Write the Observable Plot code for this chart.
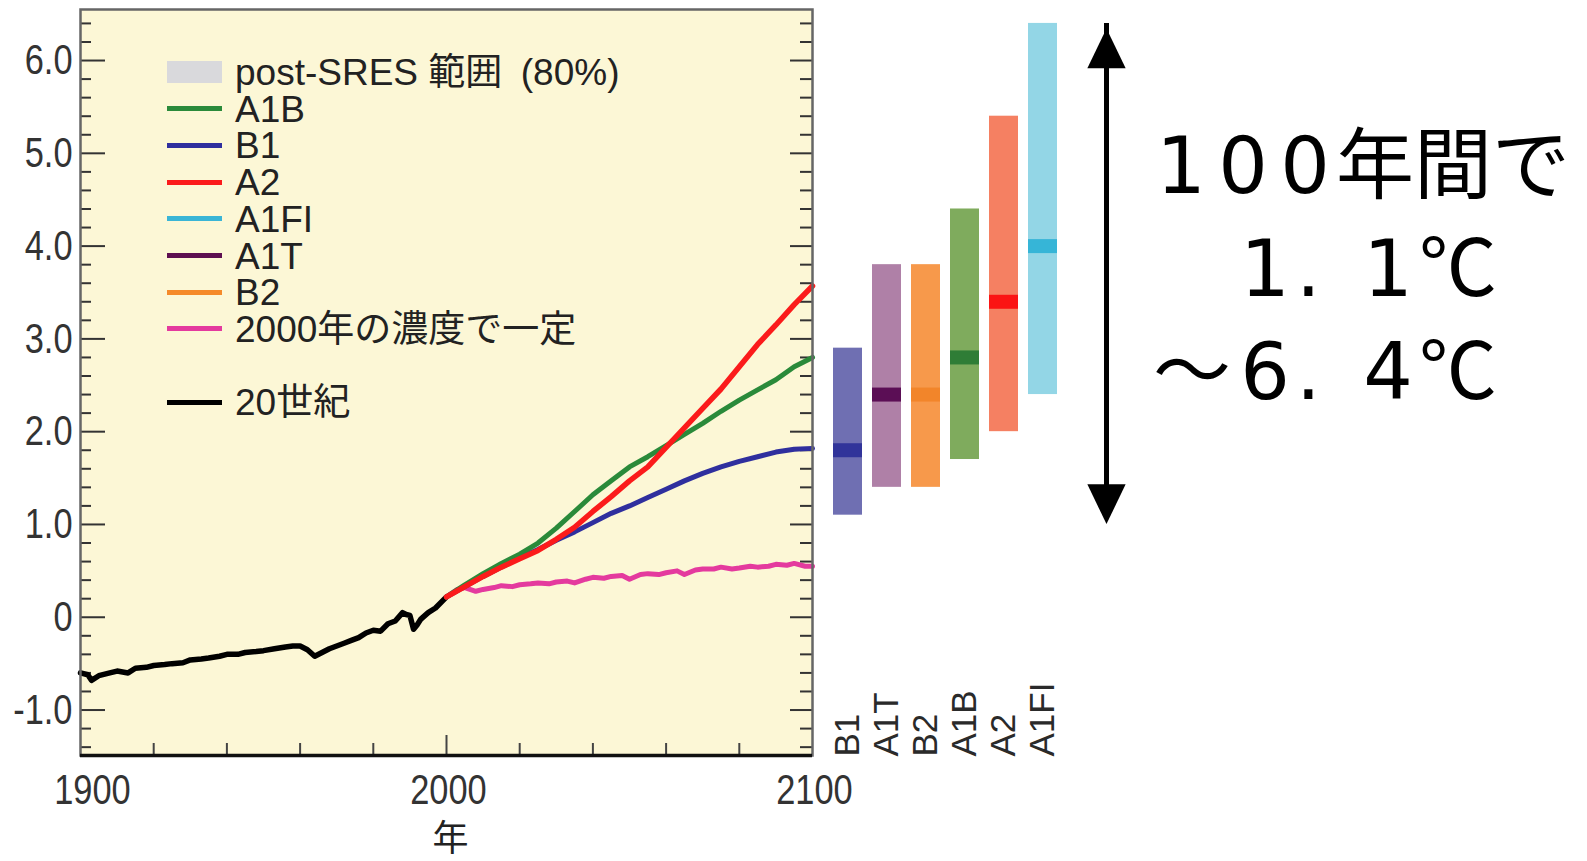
<!DOCTYPE html>
<html><head><meta charset="utf-8">
<script src="https://cdn.jsdelivr.net/npm/d3@7"></script>
<script src="https://cdn.jsdelivr.net/npm/@observablehq/plot@0.6"></script>
<style>
body{margin:0;background:#fff;}
#wrap{position:relative;width:1587px;height:861px;overflow:hidden;background:#fff;}
#wrap svg{position:absolute;left:0;top:0;}
.legend{position:absolute;left:167px;top:0;font-family:'Liberation Sans','Noto Sans CJK JP',sans-serif;font-size:37px;color:#222;}
.legend .row{position:absolute;left:0;height:37px;display:flex;align-items:center;white-space:nowrap;}
.legend .sw{width:55px;height:5px;margin-right:13px;flex:none;}
.legend .txt{display:inline-block;position:relative;top:1px;line-height:30px;height:30px;}
.note{position:absolute;left:1150px;top:108px;font-family:'Noto Sans CJK JP',sans-serif;font-size:78px;color:#000;white-space:nowrap;}
.note .ln{height:103px;line-height:103px;}
.note .c{display:inline-block;text-align:center;}
.note .dg{font-family:'DejaVu Sans',sans-serif;width:62px;}
.note .pt{font-family:'DejaVu Sans',sans-serif;width:61px;text-align:left;}
.note .cj{width:78px;}
.note .wd{width:84px;}
</style>
</head><body>
<div id="wrap"></div>
<script>
// ---------- data ----------
const histYears = [1900,1902,1903,1905,1908,1910,1913,1915,1918,1920,1923,1925,1928,1930,1933,1935,1938,1940,1943,1945,1948,1950,1953,1956,1958,1960,1962,1964,1966,1968,1970,1972,1974,1976,1978,1980,1982,1984,1986,1988,1989,1990,1991,1992,1993,1995,1997,2000];
const histTemp  = [-0.60,-0.62,-0.68,-0.63,-0.60,-0.58,-0.60,-0.55,-0.54,-0.52,-0.51,-0.50,-0.49,-0.46,-0.45,-0.44,-0.42,-0.40,-0.40,-0.38,-0.37,-0.36,-0.34,-0.32,-0.31,-0.31,-0.35,-0.42,-0.38,-0.34,-0.31,-0.28,-0.25,-0.22,-0.17,-0.14,-0.15,-0.07,-0.04,0.05,0.03,0.02,-0.13,-0.08,-0.02,0.05,0.10,0.22];

const scenYears = [2000,2005,2010,2015,2020,2025,2030,2035,2040,2045,2050,2055,2060,2065,2070,2075,2080,2085,2090,2095,2100];
const a2  = [0.22,0.33,0.44,0.54,0.63,0.72,0.84,0.97,1.14,1.30,1.47,1.62,1.83,2.04,2.25,2.46,2.70,2.94,3.15,3.37,3.57];
const a1b = [0.22,0.35,0.47,0.58,0.68,0.80,0.96,1.14,1.32,1.47,1.62,1.73,1.85,1.97,2.09,2.22,2.34,2.45,2.56,2.70,2.80];
const b1  = [0.22,0.33,0.44,0.54,0.64,0.73,0.83,0.92,1.02,1.12,1.20,1.29,1.38,1.47,1.55,1.62,1.68,1.73,1.78,1.81,1.82];

const commitYears = [2000,2003,2005,2008,2010,2013,2015,2018,2020,2023,2025,2028,2030,2033,2035,2038,2040,2043,2045,2048,2050,2053,2055,2058,2060,2063,2065,2068,2070,2073,2075,2078,2080,2083,2085,2088,2090,2093,2095,2098,2100];
const commit      = [0.22,0.30,0.32,0.28,0.30,0.32,0.34,0.33,0.35,0.36,0.37,0.36,0.38,0.39,0.37,0.41,0.43,0.42,0.44,0.45,0.41,0.46,0.47,0.46,0.48,0.50,0.46,0.51,0.52,0.52,0.54,0.52,0.53,0.55,0.54,0.55,0.57,0.56,0.58,0.55,0.55];

const scenarios = ["B1","A1T","B2","A1B","A2","A1FI"];
const rangeLow  = [1.1,1.4,1.4,1.7,2.0,2.4];
const rangeHigh = [2.9,3.8,3.8,4.4,5.4,6.4];
const bestEst   = [1.8,2.4,2.4,2.8,3.4,4.0];
const barFill    = ["#6f6fb2","#af80a7","#f7994b","#7fab5d","#f58062","#93d6e6"];
const medianFill = ["#31349a","#5b0e55","#f2852a","#2f7d36","#fb1414","#36b5d7"];

const arrowSpan = [{lo: 1.1, hi: 6.4}];

const yMajor = [-1,0,1,2,3,4,5,6];
const yMinor = d3.range(-1.4, 6.41, 0.2).map(v => Math.round(v*10)/10).filter(v => !Number.isInteger(v));
const xMinorTicks = [1920,1940,1960,1980,2020,2040,2060,2080];
const xMajorTicks = [2000];
const xLabels = [1900,2000,2100];

const legendLabels = ["post-SRES 範囲\u2002(80%)","A1B","B1","A2","A1FI","A1T","B2","2000年の濃度で一定","20世紀"];
const legendColors = ["#d9d9dc","#2a8a3a","#2f2f9e","#fb1b1b","#3ab5d6","#5d0f51","#f58a2a","#e43a9e","#000000"];
const legendRows   = [0,1,2,3,4,5,6,7,9];

const noteLines = ["100年間で","　1．1℃","～6．4℃"];

// ---------- layout ----------
const W = 1587, H = 861;
const mL = 80, mR = W - 812, mT = 9, mB = H - 755;
const frameW = W - mL - mR, frameH = H - mT - mB;
const yDomain = [-1.49, 6.55];
const sans = "'Liberation Sans','Noto Sans CJK JP',sans-serif";
const bg = "#fcf7d6";

const tbl = (xs, ys) => xs.map((x, i) => ({year: x, v: ys[i]}));

const main = Plot.plot({
  width: W, height: H,
  marginLeft: mL, marginRight: mR, marginTop: mT, marginBottom: mB,
  x: {domain: [1900, 2100], axis: null},
  y: {domain: yDomain, axis: null},
  style: {background: "transparent", fontFamily: sans, color: "#333"},
  marks: [
    Plot.frame({fill: bg, stroke: null}),
    Plot.tickY(yMinor, {y: d => d, insetRight: frameW - 11, stroke: "#333", strokeWidth: 2}),
    Plot.tickY(yMajor, {y: d => d, insetRight: frameW - 25, stroke: "#333", strokeWidth: 2}),
    Plot.tickY(yMinor, {y: d => d, insetLeft: frameW - 12, stroke: "#333", strokeWidth: 2}),
    Plot.tickY(yMajor, {y: d => d, insetLeft: frameW - 22, stroke: "#333", strokeWidth: 2}),
    Plot.tickX(xMinorTicks, {x: d => d, insetTop: frameH - 12, stroke: "#444", strokeWidth: 2}),
    Plot.tickX(xMajorTicks, {x: d => d, insetTop: frameH - 20, stroke: "#444", strokeWidth: 2}),
    Plot.line(tbl(histYears, histTemp), {x: "year", y: "v", stroke: "#000", strokeWidth: 5.5}),
    Plot.line(tbl(commitYears, commit), {x: "year", y: "v", stroke: "#e43a9e", strokeWidth: 5}),
    Plot.line(tbl(scenYears, b1), {x: "year", y: "v", stroke: "#2f2f9e", strokeWidth: 5}),
    Plot.line(tbl(scenYears, a1b), {x: "year", y: "v", stroke: "#2a8a3a", strokeWidth: 5}),
    Plot.line(tbl(scenYears, a2), {x: "year", y: "v", stroke: "#fb1b1b", strokeWidth: 5.5}),
    Plot.frame({stroke: "#666", strokeWidth: 2.5}),
    Plot.ruleY([yDomain[0]], {stroke: "#111", strokeWidth: 3.5}),
    Plot.axisY(yMajor, {anchor: "left", tickSize: 0, tickPadding: 8, fontSize: 43, fontFamily: sans, fill: "#333",
      tickFormat: d => d === 0 ? "0" : d.toFixed(1), label: null}),
    Plot.text(xLabels.slice(0, 1), {x: d => d, text: d => String(d), frameAnchor: "bottom", lineAnchor: "middle", dy: 35, dx: 12, fontSize: 43, fontFamily: sans, fill: "#333"}),
    Plot.text(xLabels.slice(1), {x: d => d, text: d => String(d), frameAnchor: "bottom", lineAnchor: "middle", dy: 35, dx: 2, fontSize: 43, fontFamily: sans, fill: "#333"}),
    Plot.text(["年"], {frameAnchor: "bottom", lineAnchor: "middle", dy: 84, dx: 4, fontSize: 36, fontFamily: "'Noto Sans CJK JP',sans-serif", fill: "#222"})
  ]
});

const idx = d3.range(scenarios.length);
const bars = Plot.plot({
  width: W, height: H,
  marginLeft: 0, marginRight: 0, marginTop: mT, marginBottom: mB,
  x: {domain: scenarios, range: [825.8, 1065], paddingInner: 0.26, paddingOuter: 0.13, axis: null},
  y: {domain: yDomain, axis: null},
  color: {type: "identity"},
  style: {background: "transparent"},
  marks: [
    Plot.barY(idx, {x: i => scenarios[i], y1: i => rangeLow[i], y2: i => rangeHigh[i], fill: i => barFill[i]}),
    Plot.tickY(idx, {x: i => scenarios[i], y: i => bestEst[i], stroke: i => medianFill[i], strokeWidth: 14}),
    Plot.text(scenarios, {x: d => d, text: d => d, frameAnchor: "bottom", lineAnchor: "middle", rotate: -90, textAnchor: "start",
      fontSize: 35, fontFamily: "'Liberation Sans',Arial,sans-serif", fill: "#2a2a2a", dy: 1})
  ]
});

const arrowHead = {
  draw(ctx, size) {
    const s = Math.sqrt(size);
    const w = 0.72 * s, h = 0.75 * s;
    ctx.moveTo(0, -h);
    ctx.lineTo(w, h);
    ctx.lineTo(-w, h);
    ctx.closePath();
  }
};
const arrow = Plot.plot({
  width: W, height: H,
  marginLeft: 1076, marginRight: W - 1136, marginTop: mT, marginBottom: mB,
  x: {domain: [-1, 1], axis: null},
  y: {domain: yDomain, axis: null},
  style: {background: "transparent"},
  marks: [
    Plot.ruleX(arrowSpan, {x: () => 0, y1: "lo", y2: "hi", stroke: "#000", strokeWidth: 5}),
    Plot.dot(arrowSpan, {x: () => 0, y: "hi", symbol: arrowHead, r: 15, fill: "#000", stroke: null, dy: 25}),
    Plot.dot(arrowSpan, {x: () => 0, y: "lo", symbol: arrowHead, r: 15, fill: "#000", stroke: null, rotate: 180, dy: -11})
  ]
});

const wrap = document.getElementById("wrap");
wrap.append(main, bars, arrow);

// condense numeric tick labels (narrow-face look of the original)
main.querySelectorAll("text").forEach(t => {
  if (/^-?[\d.]+$/.test(t.textContent.trim())) {
    const L = t.getComputedTextLength();
    t.setAttribute("textLength", (L * 0.8).toFixed(1));
    t.setAttribute("lengthAdjust", "spacingAndGlyphs");
  }
});

// legend
const leg = document.createElement("div");
leg.className = "legend";
legendLabels.forEach((lab, i) => {
  const row = document.createElement("div");
  row.className = "row";
  row.style.top = (72 + legendRows[i] * 36.7 - 18.5) + "px";
  const sw = document.createElement("span");
  sw.className = "sw";
  sw.style.background = legendColors[i];
  if (i === 0) sw.style.height = "22px";
  const tx = document.createElement("span");
  tx.className = "txt";
  tx.textContent = lab;
  row.append(sw, tx);
  leg.append(row);
});
wrap.append(leg);

// note text (each glyph in its own cell)
const note = document.createElement("div");
note.className = "note";
noteLines.forEach(line => {
  const ln = document.createElement("div");
  ln.className = "ln";
  for (const ch of line) {
    const c = document.createElement("span");
    let cls = "cj";
    if (/\d/.test(ch)) cls = "dg";
    else if (ch === "．") cls = "pt";
    else if (ch === "～" || ch === "　") cls = "wd";
    c.className = "c " + cls;
    c.textContent = ch === "．" ? "." : ch;
    ln.append(c);
  }
  note.append(ln);
});
wrap.append(note);
</script>
</body></html>
